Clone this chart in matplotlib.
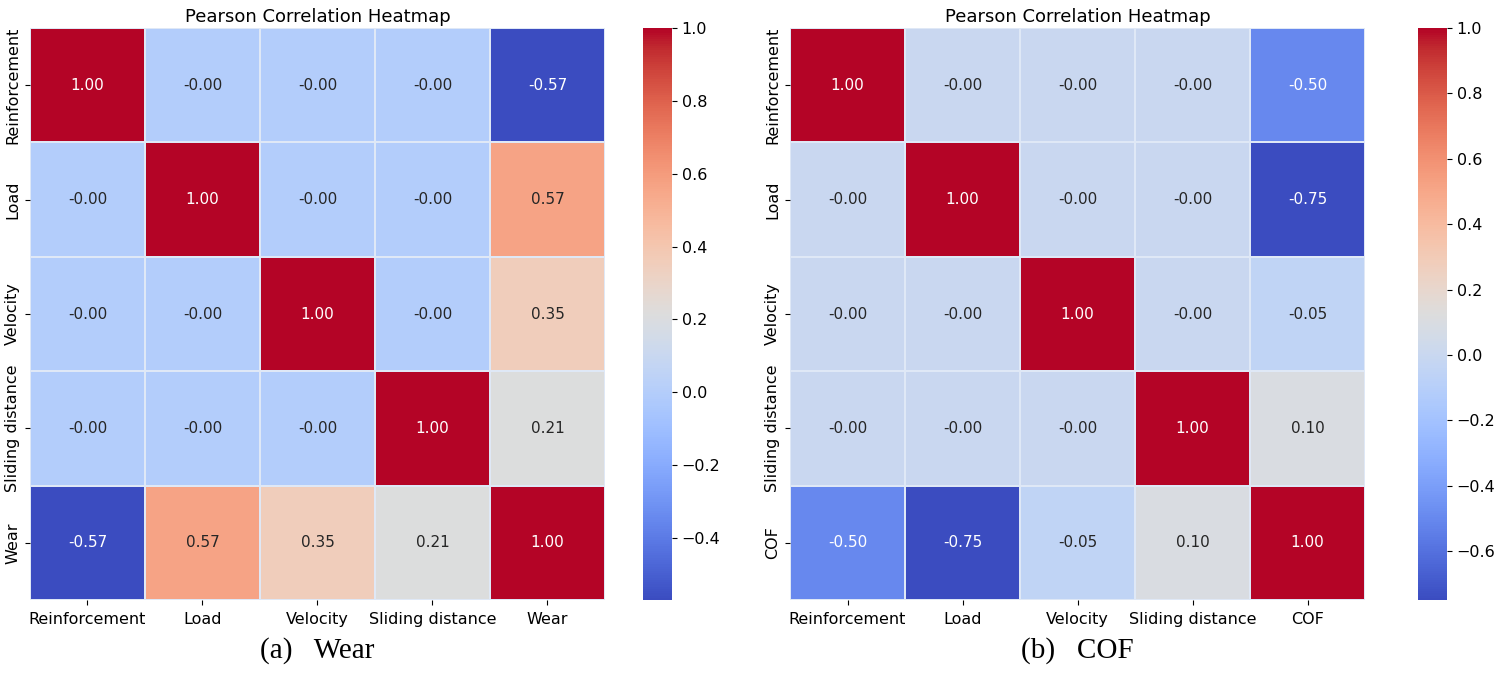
import numpy as np
import matplotlib
matplotlib.use("Agg")
import matplotlib.pyplot as plt
import seaborn as sns

# etiquetas de cada matriz
labels_wear = ["Reinforcement", "Load", "Velocity", "Sliding distance", "Wear"]
labels_cof = ["Reinforcement", "Load", "Velocity", "Sliding distance", "COF"]

# correlaciones con la salida (ultima fila/columna)
corr_wear_out = [-0.57, 0.57, 0.35, 0.21]
corr_cof_out = [-0.50, -0.75, -0.05, 0.10]

captions = ["(a)   Wear", "(b)   COF"]


def buildMatrix(out):
    m = np.full((5, 5), -0.0)
    for i in range(5):
        m[i, i] = 1.0
    for i, v in enumerate(out):
        m[i, 4] = v
        m[4, i] = v
    return m


fig = plt.figure(figsize=(15, 6.94), dpi=100)

panels = [
    (buildMatrix(corr_wear_out), labels_wear, 0.020, 0.4287),
    (buildMatrix(corr_cof_out), labels_cof, 0.5267, 0.9453),
]

for k, (mat, labs, x0, cx) in enumerate(panels):
    ax = fig.add_axes([x0, 0.1354, 0.3833, 0.8242])
    cax = fig.add_axes([cx, 0.1354, 0.0193, 0.8242])
    sns.heatmap(mat, ax=ax, cbar_ax=cax, cmap="coolwarm", annot=True, fmt=".2f",
                annot_kws={"size": 11}, linewidths=0.3, linecolor="#dfe8f6",
                xticklabels=labs, yticklabels=labs)
    ax.set_title("Pearson Correlation Heatmap", fontsize=13, pad=4)
    ax.tick_params(axis="x", labelsize=11.5, rotation=0, pad=5)
    ax.tick_params(axis="y", labelsize=11.5)
    for t in ax.get_yticklabels():
        t.set_rotation(90)
        t.set_va("center")
    cax.tick_params(labelsize=11.5)
    fig.text(x0 + 0.3833 / 2, 0.062, captions[k], ha="center", va="center",
             fontsize=21, family="Liberation Serif")

fig.savefig("out.png", dpi=100)
